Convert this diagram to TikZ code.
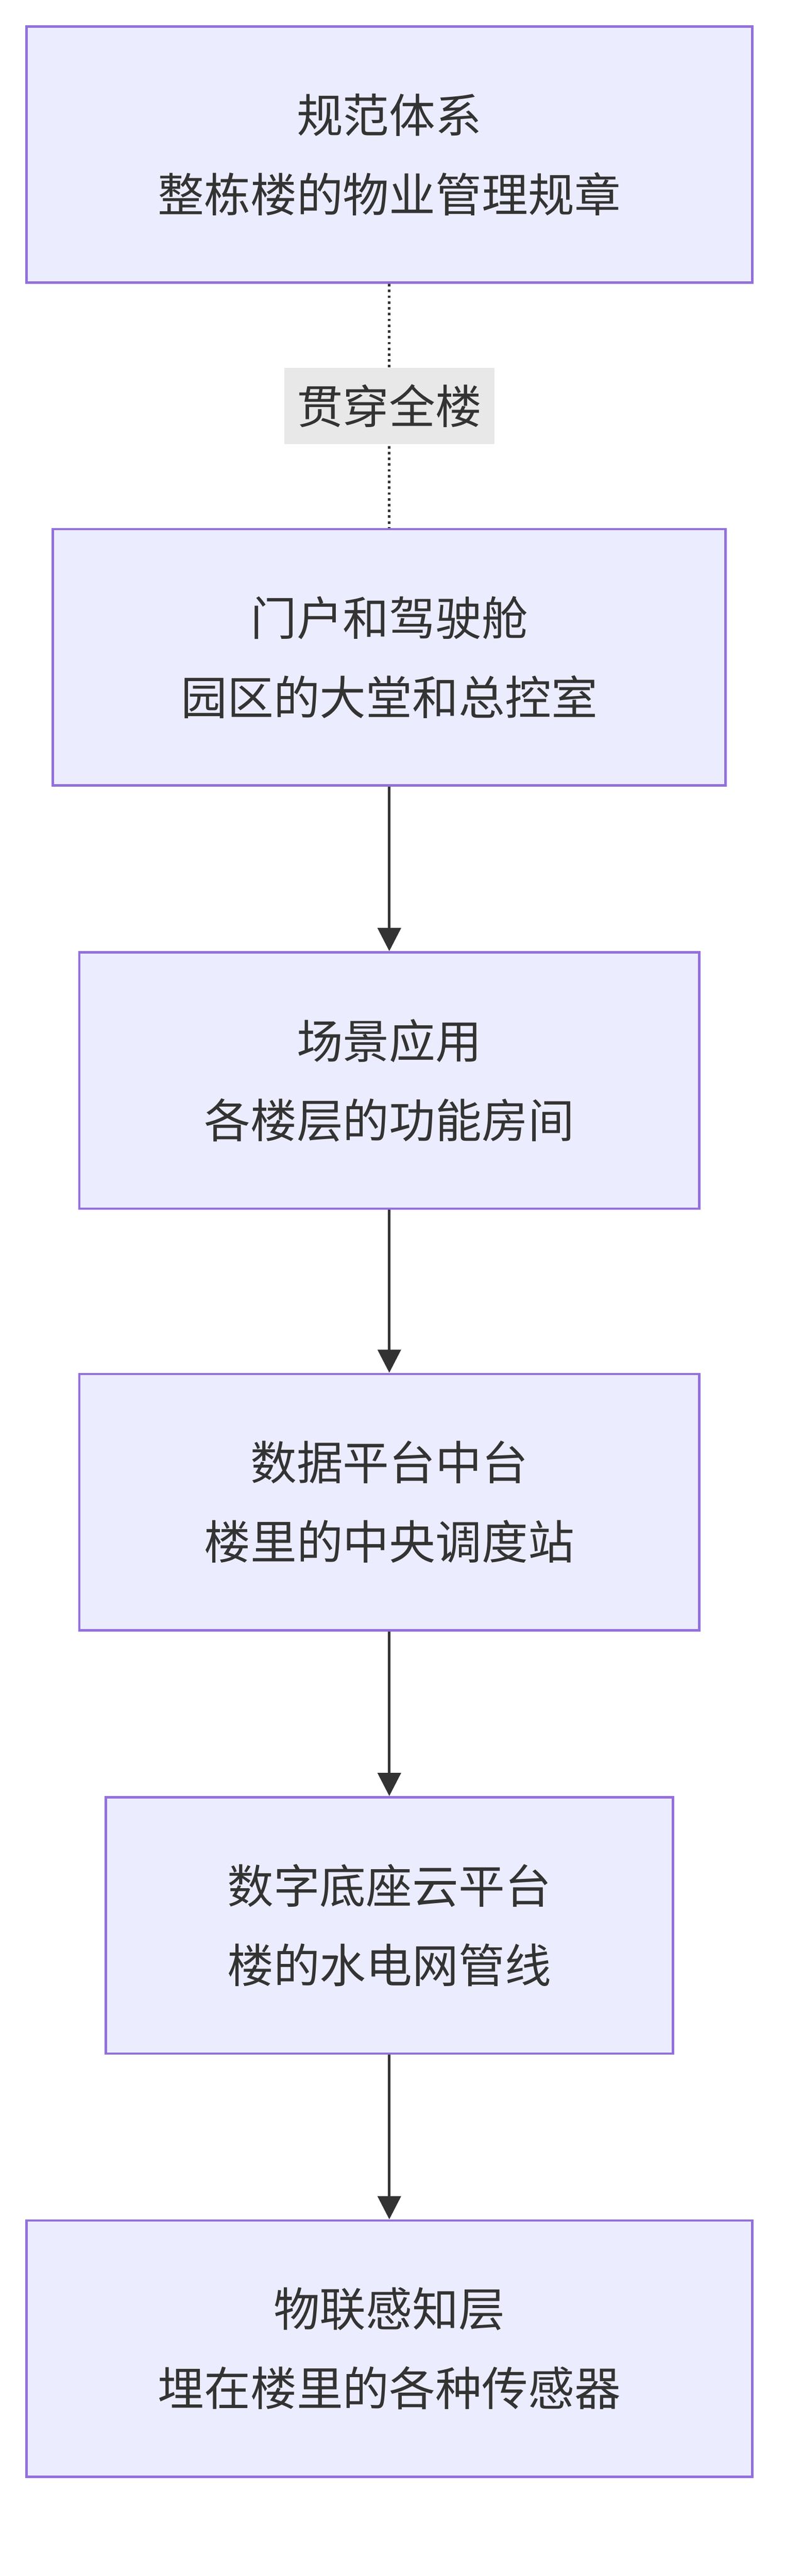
\documentclass[tikz,border=0pt]{standalone}
\usepackage{fontspec}
\setmainfont{Noto Sans CJK SC}
\usetikzlibrary{arrows.meta}
\definecolor{boxfill}{HTML}{ECECFF}
\definecolor{boxline}{HTML}{9370DB}
\definecolor{ink}{HTML}{333333}
\definecolor{lblbg}{HTML}{E8E8E8}
\begin{document}
\begin{tikzpicture}[x=1pt,y=-1pt,
  box/.style={draw=boxline,fill=boxfill,line width=1.5pt,minimum height=155pt,align=center,text=ink,font=\fontsize{28}{48}\selectfont,inner sep=0pt},
  arr/.style={draw=ink,line width=1.5pt,-{Triangle[length=14pt,width=14pt]}}]
\useasboundingbox (0,0) rectangle (485,1558);
\node[box,minimum width=439pt] (a) at (235.5,93.5) {规范体系\\整栋楼的物业管理规章};
\node[box,minimum width=407pt] (b) at (235.5,397.5) {门户和驾驶舱\\园区的大堂和总控室};
\node[box,minimum width=375pt] (c) at (235.5,653.5) {场景应用\\各楼层的功能房间};
\node[box,minimum width=375pt] (d) at (235.5,908.5) {数据平台中台\\楼里的中央调度站};
\node[box,minimum width=343pt] (e) at (235.5,1164.5) {数字底座云平台\\楼的水电网管线};
\node[box,minimum width=439pt] (f) at (235.5,1420.5) {物联感知层\\埋在楼里的各种传感器};
\draw[ink,line width=1.5pt,dotted] (a) -- node[fill=lblbg,text=ink,font=\fontsize{28}{34}\selectfont,minimum width=127pt,minimum height=46pt,inner sep=0pt] (l) {贯穿全楼} (b);
\draw[arr] (b) -- (c);
\draw[arr] (c) -- (d);
\draw[arr] (d) -- (e);
\draw[arr] (e) -- (f);
\end{tikzpicture}
\end{document}
